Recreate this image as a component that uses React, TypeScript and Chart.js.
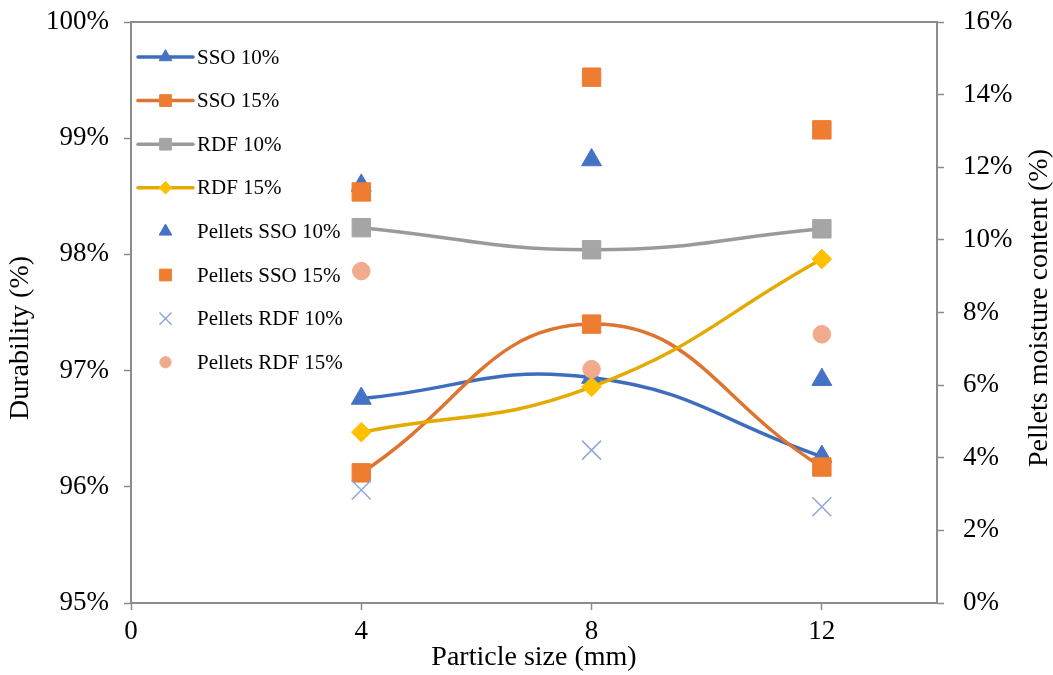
import React, { useEffect, useRef } from 'react';
import { Chart, registerables } from 'chart.js';

Chart.register(...registerables);

const FONT = "'Liberation Serif', 'Times New Roman', Times, serif";

// ---- data ----
const particleSizes = [4, 8, 12];
const xTickValues = [0, 4, 8, 12];

// Durability (%), left axis
const sso10Durability = [96.76, 96.94, 96.26];
const sso15Durability = [96.12, 97.4, 96.17];
const rdf10Durability = [98.23, 98.04, 98.22];
const rdf15Durability = [96.47, 96.86, 97.96];

// Pellets moisture content (%), right axis
const sso10Moisture = [11.5, 12.2, 6.15];
const sso15Moisture = [11.32, 14.48, 13.03];
const rdf10Moisture = [3.11, 4.21, 2.65];
const rdf15Moisture = [9.14, 6.44, 7.4];

const seriesLabels = [
  'SSO 10%',
  'SSO 15%',
  'RDF 10%',
  'RDF 15%',
  'Pellets SSO 10%',
  'Pellets SSO 15%',
  'Pellets RDF 10%',
  'Pellets RDF 15%',
];

const leftTitle = 'Durability (%)';
const rightTitle = 'Pellets moisture content (%)';
const bottomTitle = 'Particle size (mm)';

const AXIS = '#8C8C8C';

const toPts = (ys: number[]) => particleSizes.map((x, i) => ({ x, y: ys[i] }));

function drawMarker(ctx: CanvasRenderingContext2D, style: string, x: number, y: number, r: number, fill: string, stroke: string, lw: number) {
  ctx.save();
  ctx.beginPath();
  ctx.fillStyle = fill;
  ctx.strokeStyle = stroke;
  ctx.lineWidth = lw;
  if (style === 'triangle') {
    const s = Math.sin((2 * Math.PI) / 3) * r;
    ctx.moveTo(x, y - r);
    ctx.lineTo(x + s, y + 0.5 * r);
    ctx.lineTo(x - s, y + 0.5 * r);
    ctx.closePath();
    ctx.fill();
    ctx.stroke();
  } else if (style === 'rect') {
    const s = r * Math.SQRT1_2;
    ctx.rect(x - s, y - s, 2 * s, 2 * s);
    ctx.fill();
    ctx.stroke();
  } else if (style === 'rectRot') {
    ctx.moveTo(x, y - r);
    ctx.lineTo(x + r, y);
    ctx.lineTo(x, y + r);
    ctx.lineTo(x - r, y);
    ctx.closePath();
    ctx.fill();
    ctx.stroke();
  } else if (style === 'circle') {
    ctx.arc(x, y, r, 0, Math.PI * 2);
    ctx.fill();
    ctx.stroke();
  } else if (style === 'crossRot') {
    const d = r * Math.SQRT1_2;
    ctx.moveTo(x - d, y - d);
    ctx.lineTo(x + d, y + d);
    ctx.moveTo(x + d, y - d);
    ctx.lineTo(x - d, y + d);
    ctx.stroke();
  }
  ctx.restore();
}

const framePlugin = {
  id: 'frame',
  beforeDatasetsDraw(chart: any) {
    const { ctx, chartArea } = chart;
    ctx.save();
    ctx.strokeStyle = AXIS;
    ctx.lineWidth = 2;
    ctx.strokeRect(chartArea.left, chartArea.top, chartArea.right - chartArea.left, chartArea.bottom - chartArea.top);
    ctx.restore();
  },
};

const titlesPlugin = {
  id: 'titles',
  afterDraw(chart: any) {
    const { ctx, chartArea } = chart;
    ctx.save();
    ctx.fillStyle = '#000';
    ctx.font = `28px ${FONT}`;
    ctx.textAlign = 'center';
    ctx.textBaseline = 'middle';
    // left
    ctx.save();
    ctx.translate(21, 338);
    ctx.rotate(-Math.PI / 2);
    ctx.fillText(leftTitle, 0, 0);
    ctx.restore();
    // right
    ctx.save();
    ctx.translate(1040, 308);
    ctx.rotate(-Math.PI / 2);
    ctx.fillText(rightTitle, 0, 0);
    ctx.restore();
    // bottom
    ctx.fillText(bottomTitle, (chartArea.left + chartArea.right) / 2, 658);
    ctx.restore();
  },
};

const legendPlugin = {
  id: 'customLegend',
  afterDraw(chart: any) {
    const { ctx, chartArea } = chart;
    const x0 = chartArea.left + 7;
    const x1 = chartArea.left + 62;
    const xm = (x0 + x1) / 2;
    const tx = chartArea.left + 66;
    chart.data.datasets.forEach((ds: any, i: number) => {
      const y = chartArea.top + 35 + i * 43.6;
      if (ds.showLine !== false) {
        ctx.save();
        ctx.strokeStyle = ds.borderColor;
        ctx.lineWidth = ds.borderWidth;
        ctx.lineCap = 'round';
        ctx.beginPath();
        ctx.moveTo(x0, y);
        ctx.lineTo(x1, y);
        ctx.stroke();
        ctx.restore();
      }
      drawMarker(ctx, ds.pointStyle, xm, y, ds.pointRadius * 0.64, ds.pointBackgroundColor, ds.pointBorderColor, ds.pointBorderWidth);
      ctx.save();
      ctx.fillStyle = '#000';
      ctx.font = `21px ${FONT}`;
      ctx.textAlign = 'left';
      ctx.textBaseline = 'middle';
      ctx.fillText(ds.label, tx, y + 1);
      ctx.restore();
    });
  },
};

export default function App() {
  const ref = useRef<HTMLCanvasElement | null>(null);

  useEffect(() => {
    if (!ref.current) return;
    const lineDs = (label: string, ys: number[], line: string, mark: string, style: string, radius: number, order: number) => ({
      label,
      data: toPts(ys),
      yAxisID: 'y',
      borderColor: line,
      borderWidth: 3.5,
      tension: 0.45,
      fill: false,
      pointStyle: style,
      pointRadius: radius,
      pointHoverRadius: radius,
      pointBackgroundColor: mark,
      pointBorderColor: mark,
      pointBorderWidth: 1,
      order,
    });
    const dotDs = (label: string, ys: number[], mark: string, style: string, radius: number, bw: number, order: number) => ({
      label,
      data: toPts(ys),
      yAxisID: 'y1',
      showLine: false,
      borderColor: mark,
      pointStyle: style,
      pointRadius: radius,
      pointHoverRadius: radius,
      pointBackgroundColor: mark,
      pointBorderColor: mark,
      pointBorderWidth: bw,
      order,
    });

    const datasets = [
      lineDs(seriesLabels[0], sso10Durability, '#3F6DBE', '#4472C4', 'triangle', 11.5, 8),
      lineDs(seriesLabels[1], sso15Durability, '#DF7430', '#ED7D31', 'rect', 13, 7),
      lineDs(seriesLabels[2], rdf10Durability, '#9A9A9A', '#A5A5A5', 'rect', 13, 6),
      lineDs(seriesLabels[3], rdf15Durability, '#E3AA00', '#FFC000', 'rectRot', 9.8, 5),
      dotDs(seriesLabels[4], sso10Moisture, '#4472C4', 'triangle', 11.5, 1, 4),
      dotDs(seriesLabels[5], sso15Moisture, '#ED7D31', 'rect', 13, 1, 3),
      dotDs(seriesLabels[6], rdf10Moisture, '#8FA6DA', 'crossRot', 13.4, 1.5, 2),
      dotDs(seriesLabels[7], rdf15Moisture, '#F2AA8C', 'circle', 8.8, 1, 1),
    ];

    const tickFont = { family: FONT, size: 27 };

    const chart = new Chart(ref.current, {
      type: 'line',
      data: { datasets: datasets as any },
      options: {
        responsive: false,
        animation: false,
        events: [],
        layout: { padding: { top: 22, left: 0, right: 0, bottom: 0 } },
        plugins: { legend: { display: false }, tooltip: { enabled: false } },
        scales: {
          x: {
            type: 'linear',
            min: 0,
            max: 14,
            afterBuildTicks: (axis: any) => {
              axis.ticks = xTickValues.map((v) => ({ value: v }));
            },
            afterFit: (s: any) => {
              s.height = 72;
              s.paddingLeft = 0;
              s.paddingRight = 0;
            },
            grid: { drawOnChartArea: false, tickLength: 7, tickColor: AXIS, tickWidth: 1.5 },
            border: { display: false },
            ticks: { font: tickFont, color: '#000', padding: 6, maxRotation: 0, autoSkip: false },
          },
          y: {
            type: 'linear',
            position: 'left',
            min: 95,
            max: 100,
            afterFit: (s: any) => {
              s.width = 131;
              s.paddingTop = 0;
              s.paddingBottom = 0;
            },
            grid: { drawOnChartArea: false, tickLength: 7, tickColor: AXIS, tickWidth: 1.5 },
            border: { display: false },
            ticks: { stepSize: 1, font: tickFont, color: '#000', padding: 15, callback: (v: any) => `${v}%` },
          },
          y1: {
            type: 'linear',
            position: 'right',
            min: 0,
            max: 16,
            afterFit: (s: any) => {
              s.width = 116;
              s.paddingTop = 0;
              s.paddingBottom = 0;
            },
            grid: { drawOnChartArea: false, tickLength: 7, tickColor: AXIS, tickWidth: 1.5 },
            border: { display: false },
            ticks: { stepSize: 2, font: tickFont, color: '#000', padding: 19, callback: (v: any) => `${v}%` },
          },
        },
      } as any,
      plugins: [framePlugin, titlesPlugin, legendPlugin],
    });
    return () => chart.destroy();
  }, []);

  return (
    <div style={{ position: 'fixed', left: 0, top: 0, width: 1053, height: 675, background: '#fff' }}>
      <canvas ref={ref} width={1053} height={675} style={{ width: 1053, height: 675, display: 'block' }} />
    </div>
  );
}
